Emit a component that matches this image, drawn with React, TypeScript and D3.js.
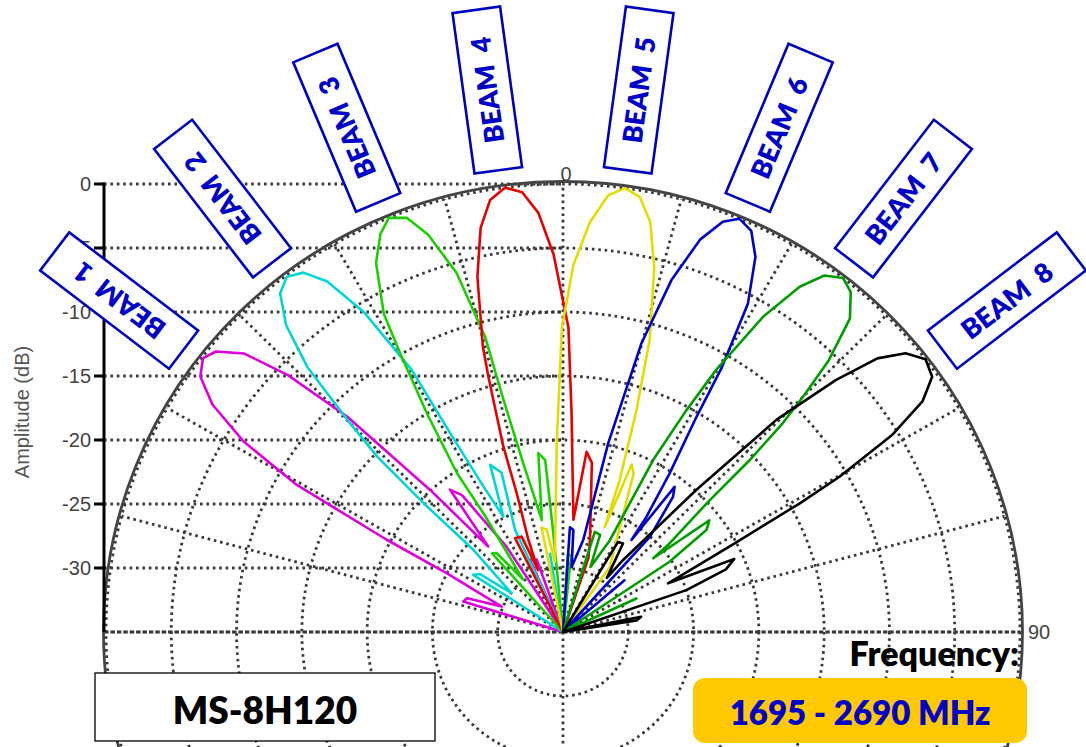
import * as d3 from 'd3';
import { useEffect, useRef } from 'react';

type Pt = [number, number]; // [angle deg, amplitude dB]

/* ================= DATA ================= */

const DB_TICKS = [0, -5, -10, -15, -20, -25, -30];
const RING_LEVELS = [-30, -25, -20, -15, -10, -5, 0];
const SPOKE_ANGLES = [-90, -75, -60, -45, -30, -15, 0, 15, 30, 45, 60, 75, 90, 180];

const BEAM_NAMES = ['1', '2', '3', '4', '5', '6', '7', '8'];
const BEAM_COLORS = ['#dd00dd', '#00d6d6', '#1ccf00', '#e60000', '#e2dc00', '#0000c8', '#009c00', '#000000'];
const LABEL_ANGLES = [-52.7, -37.6, -22.8, -7.8, 7.8, 22.8, 37.6, 52.7];

const beam1: Pt[] = [
  [-90, -35], [-76, -35], [-72.7, -27.0], [-70.3, -27.2], [-67.1, -29.9], [-62.7, -25.0],
  [-61.9, -19.7], [-60.6, -11.6], [-58.7, -6.4], [-56.5, -2.8], [-54.3, -0.8], [-52.2, -0.1],
  [-50.5, -0.55], [-48.3, -2.3], [-46.4, -5.9], [-44.5, -11.4], [-42.5, -20.0], [-40.6, -26.2],
  [-37.9, -20.9], [-35.9, -21.8], [-33, -27], [-30, -35], [-27, -35], [-24.2, -28.8],
  [-19.6, -29.0], [-16, -35], [90, -35],
];
const beam2: Pt[] = [
  [-90, -35], [-61, -35], [-57, -26.8], [-54.5, -27.2], [-52.4, -30], [-46.9, -25.6],
  [-46.7, -20.3], [-46.1, -15.3], [-44.9, -11.6], [-43.4, -6.5], [-41.5, -3.0], [-39.3, -0.8],
  [-37.3, -0.1], [-35.3, -0.6], [-33.4, -2.2], [-31.4, -5.7], [-29.5, -11.5], [-29.1, -17.2],
  [-28.2, -22], [-26.9, -24.9], [-23.1, -20.8], [-20.7, -21.7], [-24.7, -26.2], [-20, -35],
  [-12, -35], [-9.2, -28.8], [-6, -35], [90, -35],
];
const beam3: Pt[] = [
  [-90, -35], [-45, -35], [-41.5, -26.8], [-39.5, -27.0], [-36.7, -29.9], [-33.3, -23.9],
  [-33.2, -20.2], [-31.4, -15.0], [-29.8, -9.9], [-28.9, -6.6], [-26.4, -2.8], [-24.2, -0.9],
  [-22.4, 0], [-20.3, -0.5], [-18.4, -2.3], [-16.2, -5.8], [-14.5, -11.2], [-14.1, -16.3],
  [-13, -21.5], [-10.5, -26.1], [-7.7, -20.9], [-5.8, -21.5], [-5.5, -27.3], [-2, -35],
  [1, -35], [3.5, -28.9], [6, -29], [8, -35], [90, -35],
];
const beam4: Pt[] = [
  [-90, -35], [-30, -35], [-26.6, -26.8], [-23, -26.9], [-21.5, -29.8], [-20.2, -27.3],
  [-18.1, -23.6], [-17.5, -19.8], [-16, -14.3], [-15.4, -11.9], [-13.3, -6.5], [-11.3, -2.8],
  [-9.4, -0.8], [-7.3, 0], [-5.2, -0.5], [-3.3, -2.2], [-1.4, -5.5], [1, -11.2], [2.2, -17.9],
  [5.2, -26.2], [7.3, -20.8], [9.5, -21.6], [16, -27.5], [18.6, -28.9], [22, -35], [90, -35],
];
const beam5: Pt[] = [
  [-90, -35], [-14, -35], [-11.4, -26.7], [-8.9, -26.9], [-6.5, -29.5], [-4.8, -27.8],
  [-1.8, -20], [-0.2, -11.2], [1.6, -6.3], [3.7, -2.9], [5.8, -0.7], [7.8, 0], [9.8, -0.5],
  [11.8, -2.3], [13.8, -5.7], [16.2, -11.2], [18, -16.8], [20.1, -22.4], [21.3, -26.2],
  [21.9, -20.9], [23.6, -21.5], [35.2, -28.8], [40, -35], [90, -35],
];
const beam6: Pt[] = [
  [-90, -35], [2, -35], [3.7, -26.8], [5.7, -27], [7.4, -29.9], [12.2, -27.6], [13.2, -19.9],
  [14.9, -11.7], [16.8, -6.3], [18.9, -2.6], [20.9, -0.7], [22.7, 0], [24.7, -0.5], [26.7, -2.2],
  [28.9, -5.7], [30.5, -11.1], [31.3, -15.3], [33.4, -20.2], [35.4, -24], [36.1, -26.1],
  [37, -20.8], [38.6, -21.5], [41.8, -25], [45, -35], [47, -35], [49.4, -28.8], [52, -35],
  [90, -35],
];
const beam7: Pt[] = [
  [-90, -35], [14, -35], [17.3, -26.8], [20.5, -26.9], [22.5, -29.5], [26.6, -27], [27.2, -19.9],
  [28.6, -15.3], [29.8, -11.4], [31.9, -6], [33.9, -2.5], [35.7, -0.7], [37.8, 0], [39.7, -0.5],
  [41.9, -2.1], [43.8, -5.6], [45, -9], [45.9, -11.6], [46.8, -15.4], [47.5, -19.8], [49.7, -24.3],
  [50.2, -26], [52.1, -20.8], [54, -21.4], [56.1, -25.2], [60, -35], [62, -35], [65, -28.8],
  [68, -35], [90, -35],
];
const beam8: Pt[] = [
  [-90, -35], [26, -35], [30.9, -26.8], [33.6, -26.7], [38.5, -29.6], [39.3, -27.7], [42.6, -19.9],
  [44.6, -11.7], [46.7, -6.3], [48.4, -2.8], [50.3, -0.9], [52.5, 0], [54.8, -0.4], [56.8, -2.1],
  [58.6, -5.5], [60.2, -10.6], [61, -14.3], [62.2, -20.1], [64.7, -26.1], [66.5, -20.7],
  [68.6, -21.6], [70.9, -25], [74, -35], [76, -35], [78.7, -28.9], [81, -29.3], [84, -35],
  [90, -35],
];

const BEAMS = [beam1, beam2, beam3, beam4, beam5, beam6, beam7, beam8];

export default function App() {
  const ref = useRef<SVGSVGElement | null>(null);

  useEffect(() => {
    if (!ref.current) return;

    const width = 1086;
    const height = 747;
    const cx = 563;
    const cy = 632;
    const rx = 457;
    const ry = 448;
    const axisX = 104;
    const grid = '#3a3a3a';
    const tickFont = '"Liberation Sans", Arial, sans-serif';
    const boldFont = 'Lato, "Open Sans", sans-serif';

    const svg = d3.select(ref.current).attr('viewBox', `0 0 ${width} ${height}`);
    svg.selectAll('*').remove();
    const g = svg.append('g');

    const rho = d3.scaleLinear().domain([-35, 0]).range([0, 1]).clamp(true);
    const rad = (a: number) => (a * Math.PI) / 180;
    const px = (a: number, db: number) => cx + rx * rho(db) * Math.sin(rad(a));
    const py = (a: number, db: number) => cy - ry * rho(db) * Math.cos(rad(a));

    /* ================= GRID ================= */

    const dotted = (sel: any) =>
      sel
        .attr('fill', 'none')
        .attr('stroke', grid)
        .attr('stroke-width', 2.8)
        .attr('stroke-dasharray', '2.6 3.8');

    g.selectAll('ellipse.ring')
      .data(RING_LEVELS)
      .enter()
      .append('ellipse')
      .attr('class', 'ring')
      .attr('cx', cx)
      .attr('cy', cy)
      .attr('rx', (d) => rx * rho(d))
      .attr('ry', (d) => ry * rho(d))
      .call(dotted);

    g.selectAll('line.spoke')
      .data(SPOKE_ANGLES)
      .enter()
      .append('line')
      .attr('class', 'spoke')
      .attr('x1', cx)
      .attr('y1', cy)
      .attr('x2', (d) => px(d, 0))
      .attr('y2', (d) => py(d, 0))
      .call(dotted);

    g.selectAll('line.hgrid')
      .data(DB_TICKS)
      .enter()
      .append('line')
      .attr('class', 'hgrid')
      .attr('x1', axisX)
      .attr('x2', cx)
      .attr('y1', (d) => py(0, d))
      .attr('y2', (d) => py(0, d))
      .call(dotted);

    g.append('line')
      .attr('x1', axisX)
      .attr('x2', cx + rx)
      .attr('y1', cy)
      .attr('y2', cy)
      .call(dotted);

    g.append('ellipse')
      .attr('cx', cx)
      .attr('cy', cy)
      .attr('rx', rx + 2.5)
      .attr('ry', ry + 2.5)
      .attr('fill', 'none')
      .attr('stroke', '#444')
      .attr('stroke-width', 2.8);

    /* ================= AXIS ================= */

    g.append('line')
      .attr('x1', axisX)
      .attr('x2', axisX)
      .attr('y1', py(0, 0) - 1.5)
      .attr('y2', cy)
      .attr('stroke', '#000')
      .attr('stroke-width', 3);

    g.selectAll('line.tick')
      .data(DB_TICKS)
      .enter()
      .append('line')
      .attr('class', 'tick')
      .attr('x1', axisX - 10)
      .attr('x2', axisX)
      .attr('y1', (d) => py(0, d))
      .attr('y2', (d) => py(0, d))
      .attr('stroke', '#000')
      .attr('stroke-width', 3);

    g.selectAll('text.tick')
      .data(DB_TICKS)
      .enter()
      .append('text')
      .attr('class', 'tick')
      .attr('x', axisX - 13)
      .attr('y', (d) => py(0, d) + 7)
      .attr('text-anchor', 'end')
      .attr('font-family', tickFont)
      .attr('font-size', 20)
      .attr('fill', '#444')
      .text((d) => String(d));

    g.append('text')
      .attr('transform', `translate(29,412) rotate(-90)`)
      .attr('text-anchor', 'middle')
      .attr('font-family', tickFont)
      .attr('font-size', 20)
      .attr('fill', '#555')
      .text('Amplitude (dB)');

    g.append('text')
      .attr('x', cx + 3)
      .attr('y', py(0, 0) - 3)
      .attr('text-anchor', 'middle')
      .attr('font-family', tickFont)
      .attr('font-size', 20)
      .attr('fill', '#444')
      .text('0');

    g.append('text')
      .attr('x', cx + rx + 8)
      .attr('y', cy + 7)
      .attr('font-family', tickFont)
      .attr('font-size', 20)
      .attr('fill', '#444')
      .text('90');

    /* ================= BEAMS ================= */

    const line = d3
      .line<Pt>()
      .x((d) => px(d[0], d[1]))
      .y((d) => py(d[0], d[1]));

    g.selectAll('path.beam')
      .data(BEAMS)
      .enter()
      .append('path')
      .attr('class', 'beam')
      .attr('d', (d) => line(d))
      .attr('fill', 'none')
      .attr('stroke', (_, i) => BEAM_COLORS[i])
      .attr('stroke-width', 2.6)
      .attr('stroke-linejoin', 'round');

    /* ================= BEAM LABELS ================= */

    const labelR = 547;
    const labels = g
      .selectAll('g.label')
      .data(LABEL_ANGLES)
      .enter()
      .append('g')
      .attr('class', 'label')
      .attr(
        'transform',
        (a) =>
          `translate(${cx + labelR * (rx / ry) * Math.sin(rad(a))},${cy - labelR * Math.cos(rad(a))}) rotate(${a - 90})`
      );

    labels
      .append('rect')
      .attr('x', -81)
      .attr('y', -24)
      .attr('width', 162)
      .attr('height', 48)
      .attr('fill', '#fff')
      .attr('stroke', '#0000c0')
      .attr('stroke-width', 2.6);

    labels
      .append('text')
      .attr('text-anchor', 'middle')
      .attr('y', 10)
      .attr('font-family', boldFont)
      .attr('font-weight', 800)
      .attr('font-size', 27)
      .attr('fill', '#0000c8')
      .text((_, i) => `BEAM\u00a0\u00a0${BEAM_NAMES[i]}`);

    /* ================= FOOTER BOXES ================= */

    g.append('rect')
      .attr('x', 95)
      .attr('y', 673)
      .attr('width', 340)
      .attr('height', 68)
      .attr('fill', '#fff')
      .attr('stroke', '#000')
      .attr('stroke-width', 1.3);

    g.append('text')
      .attr('x', 265)
      .attr('y', 724)
      .attr('text-anchor', 'middle')
      .attr('font-family', boldFont)
      .attr('font-weight', 800)
      .attr('font-size', 37)
      .attr('fill', '#000')
      .text('MS-8H120');

    g.append('text')
      .attr('x', 1019)
      .attr('y', 666)
      .attr('text-anchor', 'end')
      .attr('font-family', boldFont)
      .attr('font-weight', 800)
      .attr('font-size', 34)
      .attr('fill', '#000')
      .text('Frequency:');

    g.append('rect')
      .attr('x', 693)
      .attr('y', 678)
      .attr('width', 334)
      .attr('height', 65)
      .attr('rx', 12)
      .attr('fill', '#ffc800');

    g.append('text')
      .attr('x', 860)
      .attr('y', 725)
      .attr('text-anchor', 'middle')
      .attr('font-family', boldFont)
      .attr('font-weight', 800)
      .attr('font-size', 33)
      .attr('fill', '#0000c8')
      .text('1695 - 2690 MHz');
  }, []);

  return (
    <svg
      ref={ref}
      width={1086}
      height={747}
      style={{ position: 'absolute', left: 0, top: 0, background: '#fff', overflow: 'hidden' }}
    />
  );
}
